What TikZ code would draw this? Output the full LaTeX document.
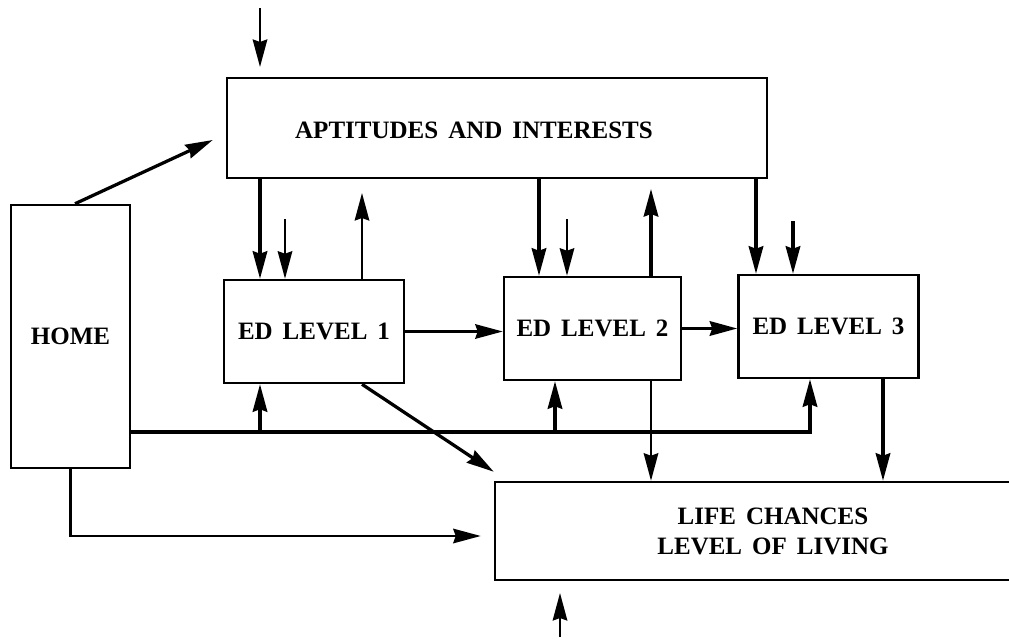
\documentclass[tikz,border=0pt]{standalone}
\usepackage{fontspec}
\setmainfont[WordSpace=1.6]{Liberation Serif}
\usetikzlibrary{arrows.meta}
\begin{document}
\begin{tikzpicture}[
  x=0.4pt, y=-0.4pt,
  box/.style={draw, line width=1pt, inner sep=0pt, font=\bfseries},
  label text/.style={inner sep=0pt, font=\bfseries},
  arr/.style={-{Stealth[length=11pt,width=5.8pt,inset=1pt]}, line width=1.3pt},
  arrthin/.style={-{Stealth[length=11pt,width=5.8pt,inset=1pt]}, line width=1pt}
]
\useasboundingbox (0,0) rectangle (1009,640);
\clip (0,0) rectangle (1009,640);

\node[box, minimum width=216pt, minimum height=40pt] (apt) at (497,128) {};
\node[label text] (apttext) at (474,130) {APTITUDES AND INTERESTS};
\node[box, minimum width=47.6pt, minimum height=105.2pt] (home) at (70.5,336.5) {HOME};
\node[box, minimum width=72pt, minimum height=41.2pt] (ed1) at (314,331.5) {ED LEVEL 1};
\node[box, minimum width=70.8pt, minimum height=41.2pt] (ed2) at (592.5,328.5) {ED LEVEL 2};
\node[box, minimum width=72pt, minimum height=41.2pt] (ed3) at (828.5,326.5) {ED LEVEL 3};
\node[box, minimum width=222.4pt, minimum height=39.2pt, align=center] (life) at (773,531)
  {LIFE CHANCES\\LEVEL OF LIVING};

\draw[arrthin] (260,8) -- (260,67);
\draw[arrthin] (560,637) -- (560,593);

\draw[arr] (75,0 |- home.north) -- ([shift={(-5.2pt,-4.8pt)}]apt.west);

\draw[arr] (260,0 |- apt.south) -- (260,0 |- ed1.north);
\draw[arrthin] (285,219) -- (285,0 |- ed1.north);
\draw[arrthin] (362,0 |- ed1.north) -- (362,193);
\draw[arr] (539,0 |- apt.south) -- (539,0 |- ed2.north);
\draw[arrthin] (567,219) -- (567,0 |- ed2.north);
\draw[arr] (651,0 |- ed2.north) -- (651,189);
\draw[arr] (756,0 |- apt.south) -- (756,0 |- ed3.north);
\draw[arr] (793,221) -- (793,0 |- ed3.north);

\draw[arrthin] (ed1.east) -- (ed1.east -| ed2.west);
\draw[arr] (ed2.east) -- (ed2.east -| ed3.west);

\draw[arr] (home.east |- 0,432) -| (810,0 |- ed3.south);
\draw[arr] (260,432) -- (260,0 |- ed1.south);
\draw[arr] (555,432) -- (555,0 |- ed2.south);

\draw[arr] (362,0 |- ed1.south) -- ([yshift=3.6pt]life.north west);
\draw[arrthin] (651,0 |- ed2.south) -- (651,0 |- life.north);
\draw[arr] (883,0 |- ed3.south) -- (883,0 |- life.north);
\draw[arrthin] (home.south) |- ([shift={(-5.2pt,-2pt)}]life.west);
\end{tikzpicture}
\end{document}
